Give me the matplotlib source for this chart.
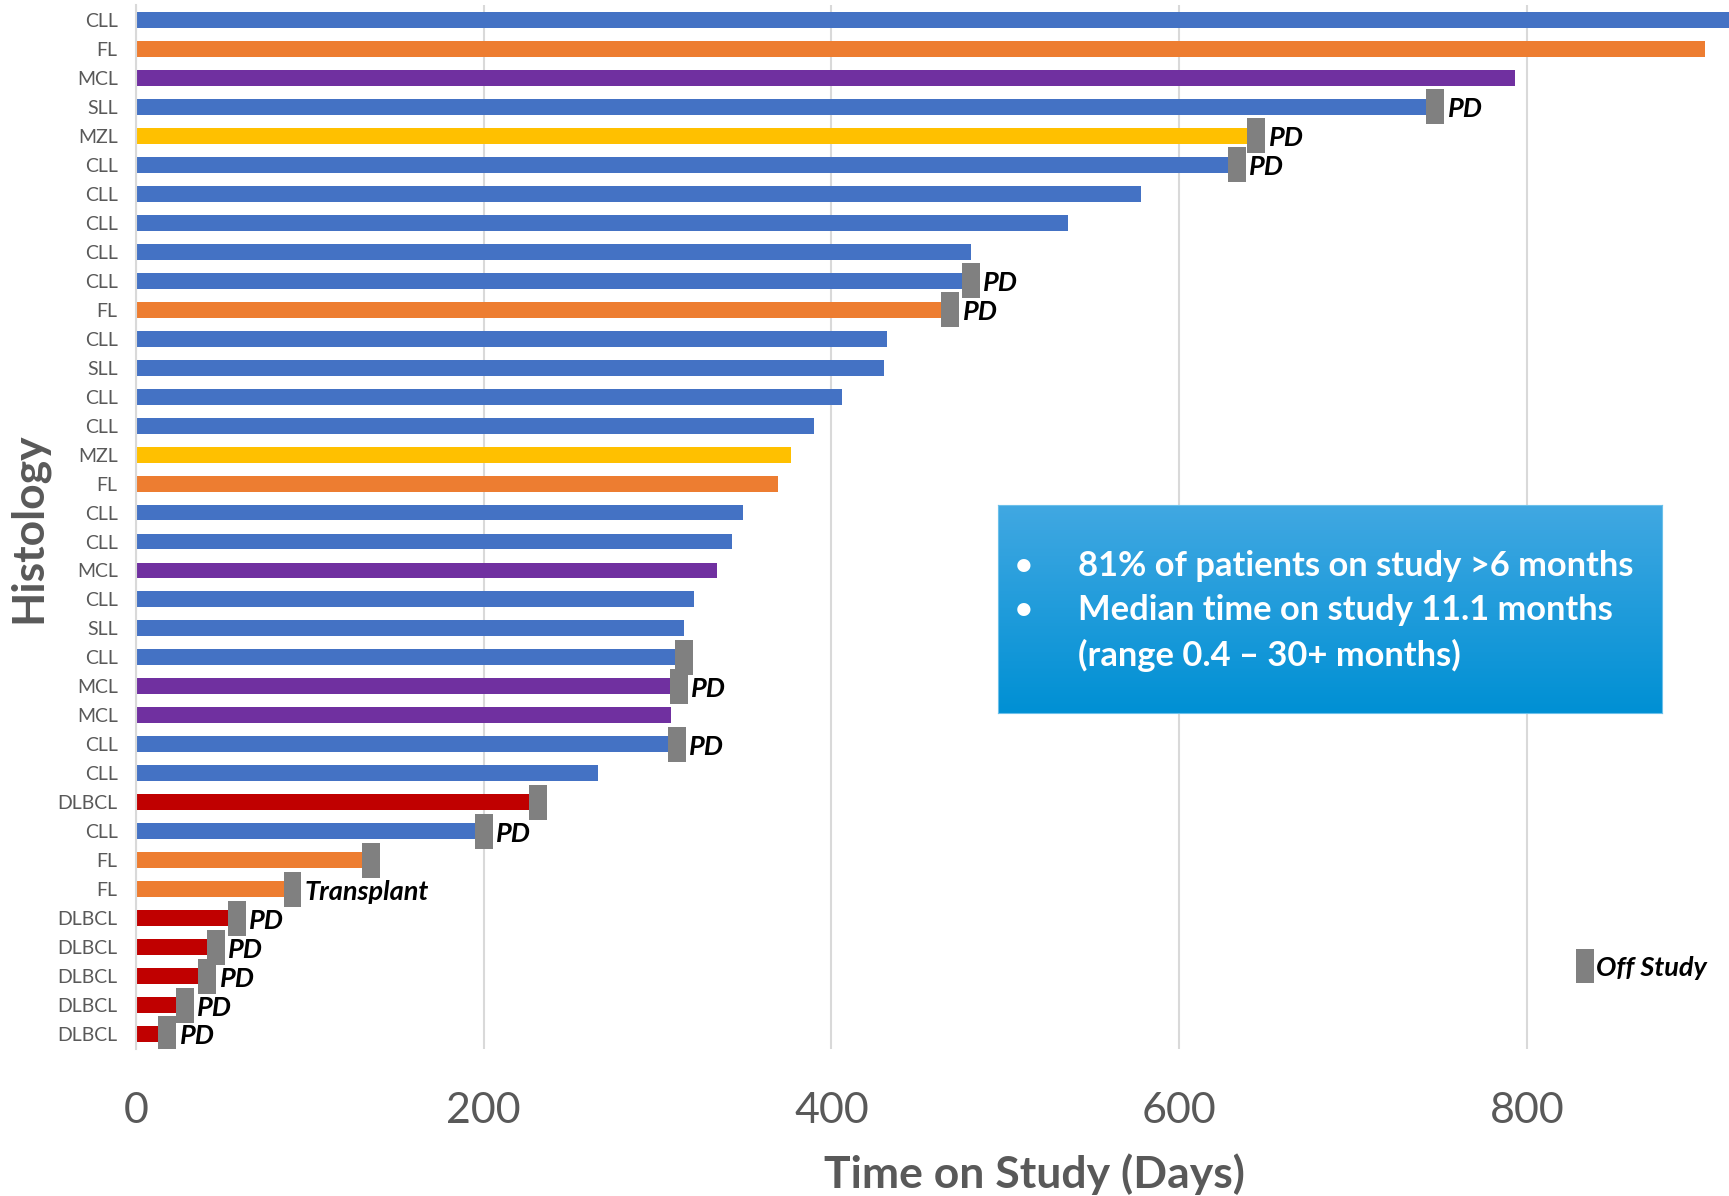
import numpy as np
import matplotlib.pyplot as plt

plt.rcParams['font.family'] = ['Lato', 'DejaVu Sans']

# one row per patient, top to bottom
histology = ['CLL', 'FL', 'MCL', 'SLL', 'MZL', 'CLL', 'CLL', 'CLL', 'CLL', 'CLL',
             'FL', 'CLL', 'SLL', 'CLL', 'CLL', 'MZL', 'FL', 'CLL', 'CLL', 'MCL',
             'CLL', 'SLL', 'CLL', 'MCL', 'MCL', 'CLL', 'CLL', 'DLBCL', 'CLL', 'FL',
             'FL', 'DLBCL', 'DLBCL', 'DLBCL', 'DLBCL', 'DLBCL']
days = [916, 902, 793, 742, 639, 628, 578, 536, 480, 475,
        463, 432, 430, 406, 390, 377, 369, 349, 343, 334,
        321, 315, 310, 307, 308, 306, 266, 226, 195, 130,
        85, 53, 41, 36, 23, 13]
# '' = still on study, 'off' = off study without reason shown
events = ['', '', '', 'PD', 'PD', 'PD', '', '', '', 'PD',
          'PD', '', '', '', '', '', '', '', '', '',
          '', '', 'off', 'PD', '', 'PD', '', 'off', 'PD', 'off',
          'Transplant', 'PD', 'PD', 'PD', 'PD', 'PD']

colors = {'CLL': '#4472C4', 'SLL': '#4472C4', 'FL': '#ED7D31',
          'MCL': '#7030A0', 'MZL': '#FFC000', 'DLBCL': '#C00000'}
grey = '#595959'
marker_w = 10.3

fig = plt.figure(figsize=(17.29, 11.96), dpi=100)
ax = fig.add_axes([0.0785, 0.1232, 0.9215, 0.8723])

y = np.arange(len(days))
ax.barh(y, days, height=0.55, color=[colors[h] for h in histology], zorder=2)

for yi, d, ev in zip(y, days, events):
    if not ev:
        continue
    ax.barh(yi, marker_w, left=d, height=1.22, color='#808080', zorder=3)
    if ev != 'off':
        ax.text(d + marker_w + 2, yi + 0.08, ev, fontsize=19.5, fontweight='bold',
                fontstyle='italic', va='center', ha='left', color='black', zorder=4)

ax.set_ylim(-0.5, len(days) - 0.5)
ax.invert_yaxis()
ax.set_xlim(0, 916)
ax.set_yticks(y)
ax.set_yticklabels(histology, fontsize=14, color=grey)
ax.set_xticks([0, 200, 400, 600, 800])
ax.tick_params(axis='x', labelsize=31, labelcolor=grey, length=0, pad=31)
ax.tick_params(axis='y', length=0, pad=13)
ax.grid(axis='x', color='#D9D9D9', linewidth=1.5, zorder=0)
for s in ['top', 'right', 'bottom']:
    ax.spines[s].set_visible(False)
ax.spines['left'].set_color('#D9D9D9')
ax.spines['left'].set_linewidth(1.5)

fig.text(0.016, 0.559, 'Histology', rotation=90, fontsize=32, fontweight='bold',
         color=grey, ha='center', va='center')
fig.text(0.598, 0.018, 'Time on Study (Days)', fontsize=32, fontweight='bold',
         color=grey, ha='center', va='center')

# "Off Study" key
ax.barh(32.65, marker_w, left=828, height=1.15, color='#808080', zorder=3)
ax.text(828 + marker_w + 1.5, 32.7, 'Off Study', fontsize=19.5, fontweight='bold',
        fontstyle='italic', va='center', ha='left', color='black')

# summary box with vertical blue gradient
box = fig.add_axes([0.577, 0.4035, 0.384, 0.1745])
top_c = np.array([65, 168, 226]) / 255
bot_c = np.array([0, 144, 212]) / 255
t = np.linspace(0, 1, 256)[:, None, None]
grad = top_c * (1 - t) + bot_c * t
grad = np.repeat(grad, 2, axis=1)
box.imshow(grad, aspect='auto', extent=[0, 1, 0, 1])
box.set_xlim(0, 1)
box.set_ylim(0, 1)
box.set_xticks([])
box.set_yticks([])
for s in box.spines.values():
    s.set_color('#6CC0EA')

lines = [('•', '81% of patients on study >6 months', 0.527),
         ('•', 'Median time on study 11.1 months', 0.490),
         ('', '(range 0.4 – 30+ months)', 0.452)]
for bullet, txt, yy in lines:
    if bullet:
        fig.text(0.592, yy, bullet, fontsize=22, fontweight='bold', color='white',
                 ha='center', va='center')
    fig.text(0.6237, yy, txt, fontsize=24.8, fontweight='bold', color='white',
             ha='left', va='center')

fig.savefig('out.png', dpi=100)
